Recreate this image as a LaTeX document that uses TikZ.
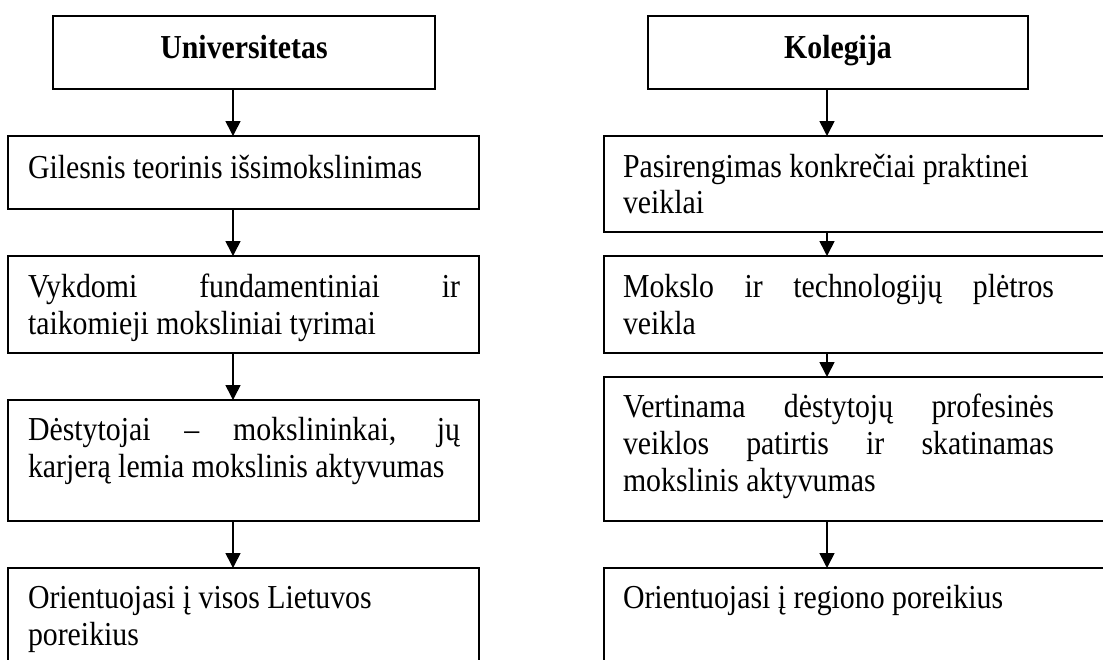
\documentclass[tikz,border=0pt]{standalone}
\usepackage{fontspec}
\setmainfont[FakeStretch=0.89]{Liberation Serif}
\usetikzlibrary{arrows.meta}
\tikzset{
  box/.style={draw=black, line width=1.8pt, rectangle, inner sep=0pt, outer sep=0pt, anchor=north west},
  txt/.style={inner sep=0pt, outer sep=0pt, anchor=base west, font=\fontsize{33.5}{37}\selectfont},
  ttl/.style={inner sep=0pt, outer sep=0pt, anchor=base, font=\fontsize{33.5}{37}\selectfont\bfseries},
  conn/.style={line width=1.6pt, -{Triangle[length=15pt, width=15pt]}}
}
\newcommand{\jl}[2]{\makebox[#1pt][s]{#2}}
\begin{document}
\begin{tikzpicture}[x=1pt, y=-1pt]
\useasboundingbox (0,0) rectangle (1103,659);
\fill[white] (0,0) rectangle (1103,659);
\begin{scope}
\clip (0,0) rectangle (1103,659);
% left column boxes
\node[box, minimum width=382pt, minimum height=73pt] (u0) at (53,16) {};
\node[box, minimum width=471pt, minimum height=73pt] (u1) at (8,136) {};
\node[box, minimum width=471pt, minimum height=97pt] (u2) at (8,256) {};
\node[box, minimum width=471pt, minimum height=121pt] (u3) at (8,400) {};
\node[box, minimum width=471pt, minimum height=140pt] (u4) at (8,568) {};
% right column boxes
\node[box, minimum width=380pt, minimum height=73pt] (k0) at (648,16) {};
\node[box, minimum width=520pt, minimum height=96pt] (k1) at (604,136) {};
\node[box, minimum width=520pt, minimum height=97pt] (k2) at (604,256) {};
\node[box, minimum width=520pt, minimum height=144pt] (k3) at (604,377) {};
\node[box, minimum width=520pt, minimum height=140pt] (k4) at (604,568) {};
% texts
\node[ttl] (tu0) at (244,58) {Universitetas};
\node[ttl] (tk0) at (838,58) {Kolegija};
\node[txt] (tu1) at (28,178) {Gilesnis teorinis išsimokslinimas};
\node[txt] (tu2a) at (28,297) {\jl{432}{Vykdomi fundamentiniai ir}};
\node[txt] (tu2b) at (28,334) {taikomieji moksliniai tyrimai};
\node[txt] (tu3a) at (28,440) {\jl{432}{Dėstytojai – mokslininkai, jų}};
\node[txt] (tu3b) at (28,477) {karjerą lemia mokslinis aktyvumas};
\node[txt] (tu4a) at (28,608) {Orientuojasi į visos Lietuvos};
\node[txt] (tu4b) at (28,645) {poreikius};
\node[txt] (tk1a) at (623,177) {Pasirengimas konkrečiai praktinei};
\node[txt] (tk1b) at (623,213) {veiklai};
\node[txt] (tk2a) at (623,297) {\jl{431}{Mokslo ir technologijų plėtros}};
\node[txt] (tk2b) at (623,334) {veikla};
\node[txt] (tk3a) at (623,417) {\jl{431}{Vertinama dėstytojų profesinės}};
\node[txt] (tk3b) at (623,454) {\jl{431}{veiklos patirtis ir skatinamas}};
\node[txt] (tk3c) at (623,491) {mokslinis aktyvumas};
\node[txt] (tk4a) at (623,608) {Orientuojasi į regiono poreikius};
% arrow columns
\coordinate (ax) at (233,0);
\coordinate (bx) at (827,0);
\draw[conn] (u0.south -| ax) -- (u1.north -| ax);
\draw[conn] (u1.south -| ax) -- (u2.north -| ax);
\draw[conn] (u2.south -| ax) -- (u3.north -| ax);
\draw[conn] (u3.south -| ax) -- (u4.north -| ax);
\draw[conn] (k0.south -| bx) -- (k1.north -| bx);
\draw[conn] (k1.south -| bx) -- (k2.north -| bx);
\draw[conn] (k2.south -| bx) -- (k3.north -| bx);
\draw[conn] (k3.south -| bx) -- (k4.north -| bx);
\end{scope}
\end{tikzpicture}
\end{document}
